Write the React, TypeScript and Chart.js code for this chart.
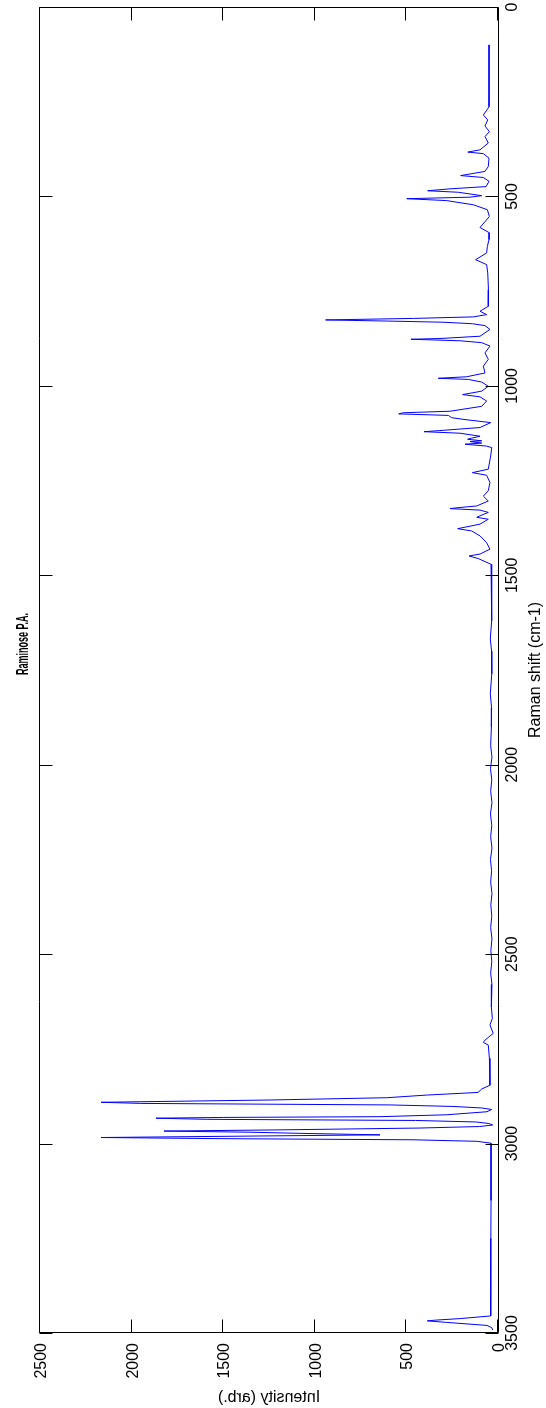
import React, { useEffect, useRef } from "react";
import { Chart, registerables } from "chart.js";

Chart.register(...registerables);

const ramanShift = [
  100, 263, 270, 285, 298, 314, 329, 342, 359, 377, 383, 387, 399, 421, 434, 445, 450, 460, 474, 480,
  485, 489, 498, 502, 506, 511, 522, 535, 553, 582, 596, 614, 632, 649, 667, 680, 702, 746, 790, 803,
  812, 818, 822, 826, 829, 832, 836, 841, 851, 869, 875, 877, 881, 886, 895, 913, 930, 948, 966, 976,
  980, 983, 990, 1001, 1014, 1023, 1029, 1040, 1054, 1067, 1071, 1074, 1078, 1084, 1089, 1097, 1110, 1118, 1121, 1125,
  1133, 1138, 1141, 1145, 1147, 1151, 1154, 1159, 1163, 1185, 1220, 1229, 1236, 1255, 1277, 1291, 1304, 1317, 1321, 1324,
  1328, 1334, 1343, 1347, 1352, 1365, 1377, 1383, 1396, 1414, 1431, 1444, 1449, 1456, 1471,
  1480, 1530, 1580, 1620, 1668, 1700, 1760, 1813, 1850, 1900, 1950, 1980, 2010, 2040, 2070, 2100, 2130, 2160, 2190, 2220,
  2250, 2280, 2310, 2340, 2370, 2400, 2430, 2460, 2490, 2520, 2550, 2580, 2610, 2640,
  2670, 2687, 2709, 2727, 2733, 2740, 2775, 2846, 2856, 2865, 2872, 2879, 2885, 2891, 2894, 2898, 2902, 2906, 2910,
  2916, 2924, 2929, 2931, 2933, 2936, 2939, 2943, 2947, 2951, 2955, 2959, 2964, 2967, 2970, 2973, 2977, 2980, 2984, 2987,
  2990, 2994, 2999, 3050, 3150, 3250, 3350, 3420, 3455, 3462, 3466, 3468, 3472, 3480, 3486, 3492,
];

const intensity = [
  49, 49, 58, 80, 56, 71, 47, 71, 53, 98, 165, 80, 49, 53, 71, 204, 80, 49, 65, 262,
  384, 217, 89, 153, 498, 280, 135, 58, 47, 98, 47, 49, 58, 62, 122, 62, 56, 52, 53, 98,
  62, 135, 462, 941, 600, 300, 140, 71, 44, 98, 317, 475, 207, 89, 44, 71, 53, 80, 71, 171,
  326, 162, 89, 53, 89, 193, 98, 62, 89, 262, 517, 542, 271, 253, 180, 40, 98, 317, 404, 207,
  98, 144, 166, 89, 153, 89, 180, 62, 34, 40, 53, 140, 62, 44, 53, 80, 53, 116, 207, 262,
  98, 53, 98, 116, 53, 98, 220, 144, 98, 62, 44, 98, 158, 107, 38,
  35, 34, 34, 35, 42, 35, 34, 42, 35, 36, 40, 33, 41, 34, 40, 33, 41, 34, 40, 33,
  41, 35, 40, 33, 39, 34, 40, 33, 39, 34, 40, 33, 38, 34,
  31, 44, 26, 71, 80, 53, 47, 44, 89, 109, 389, 608, 1245, 2167, 1950, 590, 245, 90, 35,
  60, 280, 644, 1500, 1867, 1590, 450, 120, 50, 29, 100, 426, 1217, 1823, 1354, 1081, 644, 1300, 2167, 1517,
  464, 116, 38, 38, 38, 39, 39, 40, 40, 207, 340, 386, 280, 60, 34, 29,
];

const intensityTicks = [0, 500, 1000, 1500, 2000, 2500];
const shiftTicks = [0, 500, 1000, 1500, 2000, 2500, 3000, 3500];

const titleText = "Raminose P.A.";
const xLabelText = "Intensity (arb.)";
const yLabelText = "Raman shift (cm-1)";

const FONT = '"Liberation Sans", Arial, Helvetica, sans-serif';

const framePlugin = {
  id: "matlabFrame",
  afterDraw(chart: any) {
    const ctx = chart.ctx as CanvasRenderingContext2D;
    const area = chart.chartArea;
    const xs = chart.scales.x;
    const ys = chart.scales.y;
    const L = area.left - 0.5;
    const R = area.right + 0.5;
    const T = area.top + 0.5;
    const B = area.bottom - 0.5;
    const tickLen = 13;
    ctx.save();
    ctx.strokeStyle = "#000";
    ctx.lineWidth = 1;
    ctx.beginPath();
    ctx.rect(L, T, R - L, B - T);
    ctx.stroke();
    ctx.beginPath();
    intensityTicks.forEach((v) => {
      const px = Math.round(xs.getPixelForValue(v)) - 0.5;
      ctx.moveTo(px, B);
      ctx.lineTo(px, B - tickLen);
      ctx.moveTo(px, T);
      ctx.lineTo(px, T + tickLen);
    });
    shiftTicks.forEach((v) => {
      const py = Math.round(ys.getPixelForValue(v)) + 0.5;
      ctx.moveTo(L, py);
      ctx.lineTo(L + tickLen, py);
      ctx.moveTo(R, py);
      ctx.lineTo(R - tickLen, py);
    });
    ctx.stroke();

    ctx.fillStyle = "#000";
    ctx.font = `16px ${FONT}`;
    // intensity tick labels (rotated, reading upward)
    intensityTicks.forEach((v) => {
      const px = xs.getPixelForValue(v);
      ctx.save();
      ctx.translate(px + 6, area.bottom + 10);
      ctx.rotate(-Math.PI / 2);
      ctx.textAlign = "right";
      ctx.textBaseline = "alphabetic";
      ctx.fillText(String(v), 0, 0);
      ctx.restore();
    });
    // raman shift tick labels on right
    shiftTicks.forEach((v) => {
      const py = ys.getPixelForValue(v);
      ctx.save();
      ctx.translate(area.right + 19, py);
      ctx.rotate(-Math.PI / 2);
      ctx.textAlign = "center";
      ctx.textBaseline = "alphabetic";
      ctx.fillText(String(v), 0, 0);
      ctx.restore();
    });
    // raman shift axis label
    ctx.save();
    ctx.translate(area.right + 42, (area.top + area.bottom) / 2);
    ctx.rotate(-Math.PI / 2);
    ctx.textAlign = "center";
    ctx.textBaseline = "alphabetic";
    ctx.fillText(yLabelText, 0, 0);
    ctx.restore();
    // intensity axis label (mirrored)
    ctx.save();
    ctx.translate((area.left + area.right) / 2, area.bottom + 69);
    ctx.scale(-1, 1);
    ctx.textAlign = "center";
    ctx.textBaseline = "alphabetic";
    ctx.fillText(xLabelText, 0, 0);
    ctx.restore();
    // title
    ctx.save();
    ctx.font = `bold 17px ${FONT}`;
    ctx.translate(28, 644);
    ctx.rotate(-Math.PI / 2);
    ctx.scale(0.53, 1);
    ctx.textAlign = "center";
    ctx.textBaseline = "alphabetic";
    ctx.fillText(titleText, 0, 0);
    ctx.restore();
    ctx.restore();
  },
};

export default function App() {
  const ref = useRef<HTMLCanvasElement | null>(null);
  useEffect(() => {
    if (!ref.current) return;
    const points = ramanShift.map((s, i) => ({ x: intensity[i], y: s }));
    const chart = new Chart(ref.current, {
      type: "scatter",
      data: {
        datasets: [
          {
            data: points,
            showLine: true,
            borderColor: "#0000ff",
            backgroundColor: "#0000ff",
            borderWidth: 1,
            pointRadius: 0,
            tension: 0,
          },
        ],
      },
      options: {
        animation: false,
        responsive: false,
        devicePixelRatio: 1,
        layout: { padding: { left: 40, right: 48, top: 7, bottom: 75 } },
        scales: {
          x: { type: "linear", min: 0, max: 2500, reverse: true, display: false },
          y: { type: "linear", min: 0, max: 3500, reverse: true, display: false },
        },
        plugins: {
          legend: { display: false },
          title: { display: false },
          tooltip: { enabled: false },
        },
      },
      plugins: [framePlugin],
    });
    return () => chart.destroy();
  }, []);
  return (
    <div style={{ position: "fixed", left: 0, top: 0, width: 546, height: 1408, background: "#fff" }}>
      <canvas ref={ref} width={546} height={1408} style={{ width: 546, height: 1408, display: "block" }} />
    </div>
  );
}
